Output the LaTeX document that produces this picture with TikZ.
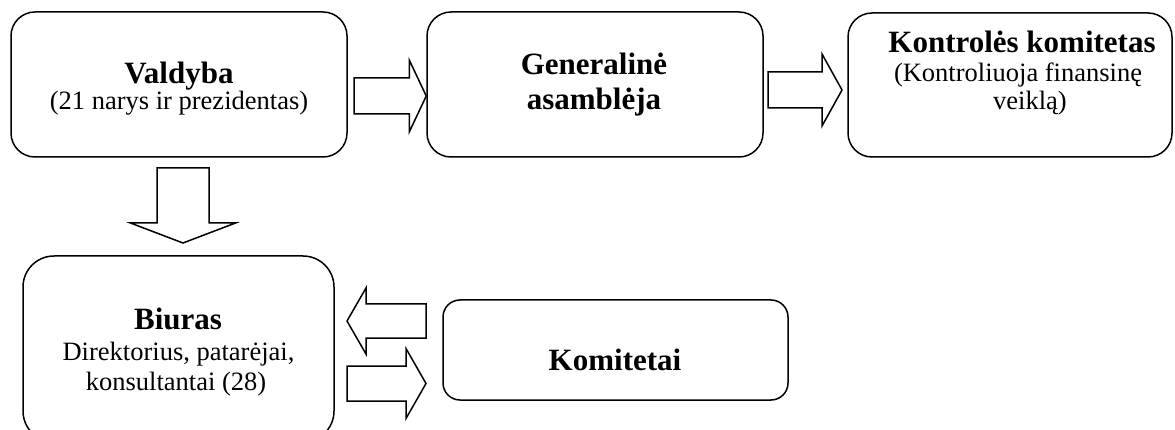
\documentclass[tikz,border=0pt]{standalone}
\usepackage{fontspec}
\setmainfont{Liberation Serif}
\usetikzlibrary{calc}
\tikzset{
  box/.style={draw, line width=1.5pt, rounded corners=#1, inner sep=0pt},
  ttl/.style={anchor=base, inner sep=0pt, font=\fontsize{31}{36}\selectfont\bfseries},
  sub/.style={anchor=base, inner sep=0pt, font=\fontsize{26.5}{30}\selectfont},
  blk/.style={draw, line width=1.5pt, fill=white, line join=miter},
}
% tail, tip, shaft half width, head half width, head length
\newcommand\blockarrow[5]{%
  \path ($(#2)!#5!(#1)$) coordinate (bkH);
  \draw[blk] ($(#1)!#3!90:(#2)$) -- ($(bkH)!#3!90:(#2)$) -- ($(bkH)!#4!90:(#2)$) -- (#2)
    -- ($(bkH)!#4!-90:(#2)$) -- ($(bkH)!#3!-90:(#2)$) -- ($(#1)!#3!-90:(#2)$) -- cycle;
}
\begin{document}
\begin{tikzpicture}[x=1pt,y=-1pt]
\useasboundingbox (0,0) rectangle (1175,430);

% Valdyba
\node[box=24pt, minimum width=336pt, minimum height=145pt] (valdyba) at (179,84.5) {};
\node[ttl] (valdybaT) at (179,84) {Valdyba};
\node[sub] (valdybaS) at (179,110) {(21 narys ir prezidentas)};

% Generaline asambleja
\node[box=24pt, minimum width=336pt, minimum height=145pt] (general) at (595,84.5) {};
\node[ttl] (generalT1) at (594,75) {Generalinė};
\node[ttl] (generalT2) at (594,110) {asamblėja};

% Kontroles komitetas
\node[box=24pt, minimum width=324pt, minimum height=144pt] (kontrol) at (1010,85) {};
\node[ttl] (kontrolT) at (1022,53) {Kontrolės komitetas};
\node[sub] (kontrolS1) at (1018,82) {(Kontroliuoja finansinę};
\node[sub] (kontrolS2) at (1030,110) {veiklą)};

% Biuras
\node[box=31pt, minimum width=311pt, minimum height=186pt] (biuras) at (178.5,349) {};
\node[ttl] (biurasT) at (178,329) {Biuras};
\node[sub] (biurasS1) at (178.5,360) {Direktorius, patarėjai,};
\node[sub] (biurasS2) at (176,390) {konsultantai (28)};

% Komitetai
\node[box=17pt, minimum width=345pt, minimum height=100pt] (komitetai) at (615.5,350) {};
\node[ttl] (komitetaiT) at (615,370) {Komitetai};

% block arrows
\coordinate (a1s) at (354,96);
\coordinate (a1e) at (general.west |- a1s);
\blockarrow{a1s}{a1e}{18pt}{36pt}{17pt}

\coordinate (a2s) at (768,90);
\coordinate (a2e) at (842,90);
\blockarrow{a2s}{a2e}{18pt}{36pt}{20pt}

\coordinate (a3s) at (183,168);
\coordinate (a3e) at (183,243);
\blockarrow{a3s}{a3e}{26pt}{52.5pt}{20pt}

\coordinate (a4s) at (426,321);
\coordinate (a4e) at (347,321);
\blockarrow{a4s}{a4e}{17pt}{33pt}{19pt}

\coordinate (a5s) at (347,383.5);
\coordinate (a5e) at (426,383.5);
\blockarrow{a5s}{a5e}{17.5pt}{35pt}{20pt}
\end{tikzpicture}
\end{document}
